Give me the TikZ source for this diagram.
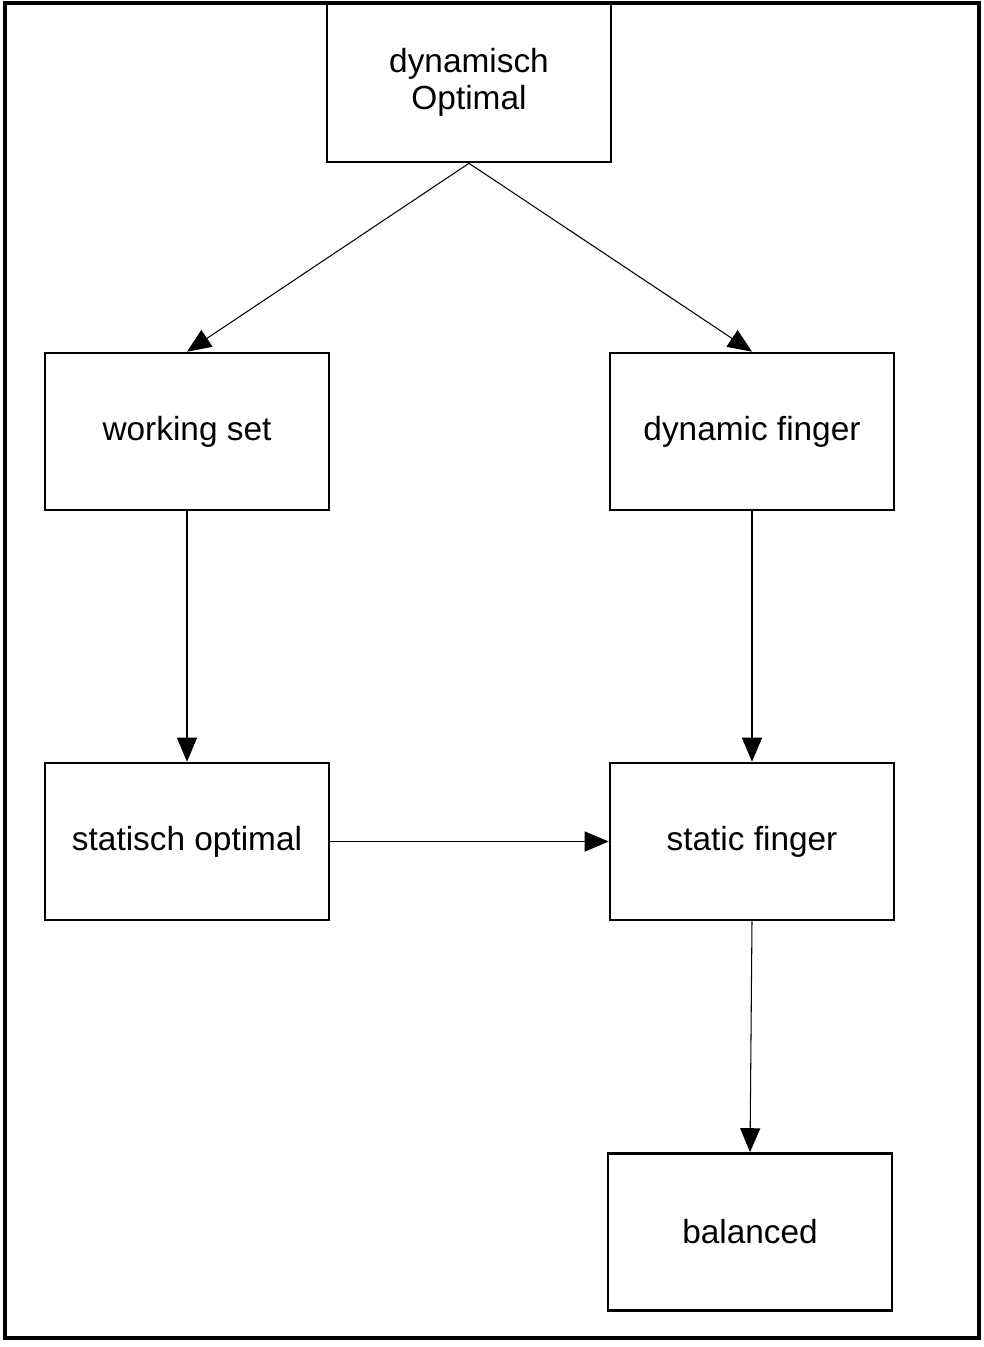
\documentclass[tikz,border=0pt]{standalone}
\usepackage{fontspec}
\setmainfont{Liberation Sans}
\usetikzlibrary{arrows.meta}
\begin{document}
\begin{tikzpicture}[x=0.02cm, y=-0.02cm,
    box/.style={draw, line width=1.5pt, minimum width=5.68cm, minimum height=3.14cm,
        inner sep=0pt, align=center, font=\fontsize{19}{21}\selectfont},
    arr/.style={line width=0.6pt, -{Triangle[length=0.48cm, width=0.4cm]}}]
    \useasboundingbox (0,0) rectangle (984,1347);
    % Frame
    \draw[line width=2.2pt] (5,3) rectangle (979,1338);

    % Boxes
    \node[box, minimum height=3.18cm] (dynopt) at (469,82.5) {dynamisch\\Optimal};
    \node[box] (wset) at (187,431.5) {working set};
    \node[box] (dfinger) at (752,431.5) {dynamic finger};
    \node[box] (statopt) at (187,841.5) {statisch optimal};
    \node[box] (sfinger) at (752,841.5) {static finger};
    \node[box] (bal) at (750,1232) {balanced};

    % Arrows
    \draw[arr] (dynopt.south) -- (wset.north);
    \draw[arr] (dynopt.south) -- (dfinger.north);
    \draw[arr] (wset.south) -- (statopt.north);
    \draw[arr] (dfinger.south) -- (sfinger.north);
    \draw[arr] (statopt.east) -- (sfinger.west);
    \draw[arr] (sfinger.south) -- (bal.north);
\end{tikzpicture}
\end{document}
